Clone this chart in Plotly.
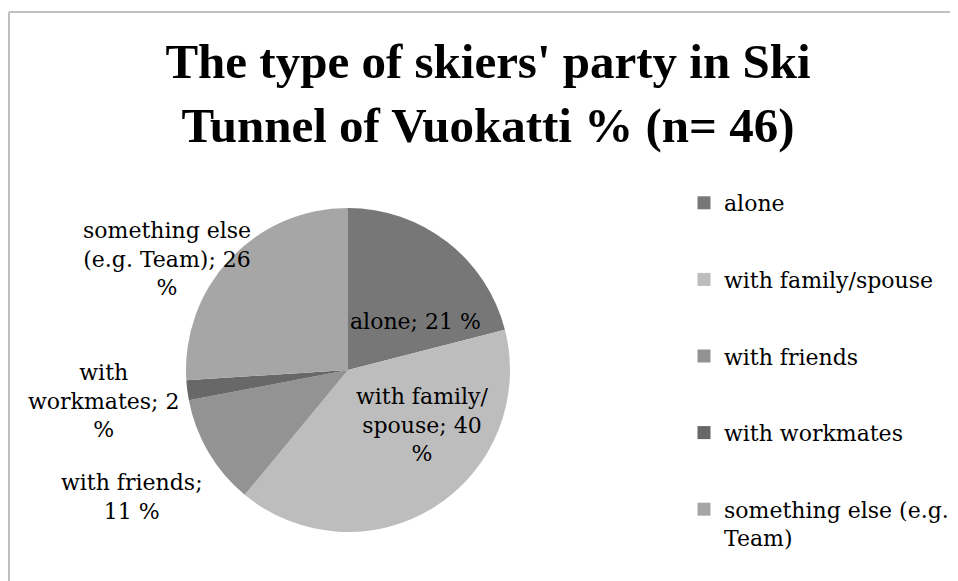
import math
import plotly.graph_objects as go

# ---- data ----
categories = ["alone", "with family/spouse", "with friends", "with workmates", "something else (e.g. Team)"]
legend_names = ["alone", "with family/spouse", "with friends", "with workmates", "something else (e.g.<br>Team)"]
values = [21, 40, 11, 2, 26]
slice_text_fmt = ["alone; {v} %", "with family/<br>spouse; {v}<br>%", "with friends;<br>{v} %",
                  "with<br>workmates; {v}<br>%", "something else<br>(e.g. Team); {v}<br>%"]
colors = ["#777777", "#bdbdbd", "#939393", "#686868", "#a6a6a6"]
title_lines = ["The type of skiers' party in Ski", "Tunnel of Vuokatti % (n= 46)"]

# label placement style: distance from centre (fraction of radius) and angular nudge (deg)
label_dist = [0.51, 0.57, 1.55, 1.52, 1.31]
label_nudge = [16.6, -21.0, 0.1, 0.0, -11.7]

OFF = 8  # page body margin
W, H = 950, 573
def px(x):
    return (x - OFF) / W
def py(y):
    return 1 - (y - OFF) / H

slice_text = [f.format(v=v) for f, v in zip(slice_text_fmt, values)]
LABEL_FONT = dict(family="DejaVu Serif", size=22, color="#000000")

fig = go.Figure()
cx, cy, r = 348, 370, 162
fig.add_trace(go.Pie(
    labels=categories, values=values, textinfo="none",
    sort=False, direction="clockwise", rotation=0,
    marker=dict(colors=colors, line=dict(width=0)),
    domain=dict(x=[px(cx - r), px(cx + r)], y=[py(cy + r), py(cy - r)]),
    showlegend=False, hoverinfo="label+percent",
))

# data labels at each slice's mid-angle
total = sum(values)
annotations = []
cum = 0
for txt, v, d, nud in zip(slice_text, values, label_dist, label_nudge):
    mid = (cum + v / 2) / total * 360 + nud
    cum += v
    a = math.radians(mid)
    lx = cx + d * r * math.sin(a)
    ly = cy - d * r * math.cos(a)
    annotations.append(dict(text=txt, x=px(lx), y=py(ly), xref="paper", yref="paper",
                            xanchor="center", yanchor="middle", align="center",
                            showarrow=False, font=LABEL_FONT))

# legend entries (one group each so spacing can match)
for name, col in zip(legend_names, colors):
    fig.add_trace(go.Scatter(
        x=[None], y=[None], mode="markers", name=name, legendgroup=name,
        marker=dict(symbol="square", size=13, color=col), hoverinfo="skip",
    ))

fig.update_layout(
    width=W, height=H,
    margin=dict(l=0, r=0, t=0, b=0),
    paper_bgcolor="white", plot_bgcolor="white",
    xaxis=dict(visible=False), yaxis=dict(visible=False),
    title=dict(text="<b>" + "<br>".join(title_lines) + "</b>", x=px(488), xanchor="center",
               y=py(78), yanchor="top",
               font=dict(family="Liberation Serif", size=49, color="#000000")),
    legend=dict(x=px(684), xanchor="left", y=py(182), yanchor="top",
                font=LABEL_FONT,
                tracegroupgap=45, valign="top", itemsizing="trace",
                bgcolor="rgba(0,0,0,0)"),
    annotations=annotations,
    shapes=[
        dict(type="line", xref="paper", yref="paper", x0=px(9), x1=1, y0=py(12), y1=py(12),
             line=dict(color="#bfbfbf", width=2)),
        dict(type="line", xref="paper", yref="paper", x0=px(9), x1=px(9), y0=0, y1=py(12),
             line=dict(color="#bfbfbf", width=2)),
    ],
)

fig.write_html("out.html")
